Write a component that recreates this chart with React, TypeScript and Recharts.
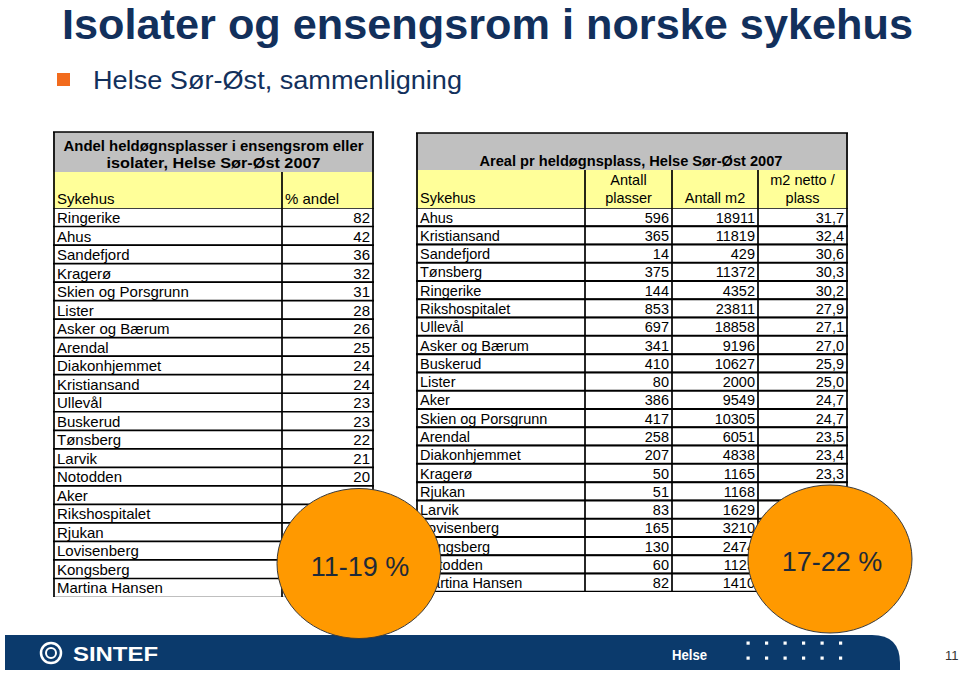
import React from 'react';
import { BarChart, Bar, XAxis, YAxis } from 'recharts';

// Andel heldøgnsplasser i ensengsrom eller isolater (%), de siste seks ligger under sirkelen
const leftNames = [
  'Ringerike', 'Ahus', 'Sandefjord', 'Kragerø', 'Skien og Porsgrunn', 'Lister', 'Asker og Bærum',
  'Arendal', 'Diakonhjemmet', 'Kristiansand', 'Ullevål', 'Buskerud', 'Tønsberg', 'Larvik',
  'Notodden', 'Aker', 'Rikshospitalet', 'Rjukan', 'Lovisenberg', 'Kongsberg', 'Martina Hansen',
];
const leftAndel = [82, 42, 36, 32, 31, 28, 26, 25, 24, 24, 23, 23, 22, 21, 20, 19, 18, 17, 15, 13, 11];

// Areal pr heldøgnsplass
const rightNames = [
  'Ahus', 'Kristiansand', 'Sandefjord', 'Tønsberg', 'Ringerike', 'Rikshospitalet', 'Ullevål',
  'Asker og Bærum', 'Buskerud', 'Lister', 'Aker', 'Skien og Porsgrunn', 'Arendal', 'Diakonhjemmet',
  'Kragerø', 'Rjukan', 'Larvik', 'Lovisenberg', 'Kongsberg', 'Notodden', 'Martina Hansen',
];
const rightPlasser = [596, 365, 14, 375, 144, 853, 697, 341, 410, 80, 386, 417, 258, 207, 50, 51, 83, 165, 130, 60, 82];
const rightM2 = [18911, 11819, 429, 11372, 4352, 23811, 18858, 9196, 10627, 2000, 9549, 10305, 6051, 4838, 1165, 1168, 1629, 3210, 2474, 1125, 1410];
const rightNetto = [31.7, 32.4, 30.6, 30.3, 30.2, 27.9, 27.1, 27.0, 25.9, 25.0, 24.7, 24.7, 23.5, 23.4, 23.3, 22.9, 19.6, 19.5, 19.0, 18.8, 17.2];

const leftData = leftNames.map((name, i) => ({ name, andel: leftAndel[i] }));
const rightData = rightNames.map((name, i) => ({
  name, plasser: rightPlasser[i], m2: rightM2[i], netto: rightNetto[i],
}));

const FONT = '"Liberation Sans", Arial, Helvetica, sans-serif';
const NAVY = '#12305c';
const GRAY = '#c0c0c0';
const YELLOW = '#ffff99';
const ORANGE = '#ff9900';
const LW = 1.7;

const L_X = 53, L_TOP = 208, L_W = 321, L_H = 389, L_COL = 229;
const R_X = 416, R_TOP = 208, R_W = 432, R_H = 384;
const R_COLS = [169, 256, 342];

const fmt = (v: number) => v.toFixed(1).replace('.', ',');

const LeftRow = (p: any) => {
  const { y, height, payload } = p;
  const base = y + height / 2 + 5.5;
  return (
    <g>
      <rect x={0} y={y} width={L_W} height={height} fill="#fff" />
      <line x1={0} x2={L_W} y1={y} y2={y} stroke="#000" strokeWidth={LW} />
      <line x1={0} x2={L_W} y1={y + height} y2={y + height} stroke="#000" strokeWidth={LW} />
      <text x={4} y={base} fontSize={15} fontFamily={FONT} fill="#000">{payload.name}</text>
      <text x={L_W - 4} y={base} fontSize={15} fontFamily={FONT} fill="#000" textAnchor="end">{payload.andel}</text>
    </g>
  );
};

const RightRow = (p: any) => {
  const { y, height, payload } = p;
  const base = y + height / 2 + 5.5;
  const t = { fontSize: 14.5, fontFamily: FONT, fill: '#000' };
  return (
    <g>
      <rect x={0} y={y} width={R_W} height={height} fill="#fff" />
      <line x1={0} x2={R_W} y1={y} y2={y} stroke="#000" strokeWidth={LW} />
      <line x1={0} x2={R_W} y1={y + height} y2={y + height} stroke="#000" strokeWidth={LW} />
      <text x={4} y={base} {...t}>{payload.name}</text>
      <text x={R_COLS[1] - 3} y={base} {...t} textAnchor="end">{payload.plasser}</text>
      <text x={R_COLS[2] - 3} y={base} {...t} textAnchor="end">{payload.m2}</text>
      <text x={R_W - 4} y={base} {...t} textAnchor="end">{fmt(payload.netto)}</text>
    </g>
  );
};

const Header = () => (
  <svg width={960} height={673} style={{ position: 'absolute', left: 0, top: 0, zIndex: 0 }}>
    <text x={62} y={39} fontSize={43} fontWeight="bold" fontFamily={FONT} fill={NAVY}
      textLength={851} lengthAdjust="spacingAndGlyphs">Isolater og ensengsrom i norske sykehus</text>
    <rect x={57} y={73} width={13} height={13} fill="#f26b1d" />
    <text x={93} y={89} fontSize={26} fontFamily={FONT} fill={NAVY}
      textLength={369} lengthAdjust="spacingAndGlyphs">Helse Sør-Øst, sammenligning</text>

    {/* venstre tabellhode */}
    <rect x={L_X} y={132} width={L_W} height={40} fill={GRAY} />
    <rect x={L_X} y={172} width={L_W} height={36} fill={YELLOW} />
    <line x1={L_X} x2={L_X + L_W} y1={132} y2={132} stroke="#000" strokeWidth={LW} />
    <text x={L_X + L_W / 2} y={150.5} fontSize={15.5} fontWeight="bold" fontFamily={FONT} textAnchor="middle"
      textLength={300} lengthAdjust="spacingAndGlyphs">Andel heldøgnsplasser i ensengsrom eller</text>
    <text x={L_X + L_W / 2} y={168} fontSize={15.5} fontWeight="bold" fontFamily={FONT} textAnchor="middle"
      textLength={214} lengthAdjust="spacingAndGlyphs">isolater, Helse Sør-Øst 2007</text>
    <text x={L_X + 4} y={204} fontSize={15} fontFamily={FONT}>Sykehus</text>
    <text x={L_X + L_COL + 3} y={204} fontSize={15} fontFamily={FONT}>% andel</text>

    {/* høyre tabellhode */}
    <rect x={R_X} y={133} width={R_W} height={37} fill={GRAY} />
    <rect x={R_X} y={170} width={R_W} height={38} fill={YELLOW} />
    <line x1={R_X} x2={R_X + R_W} y1={133} y2={133} stroke="#000" strokeWidth={LW} />
    <text x={631} y={166} fontSize={15} fontWeight="bold" fontFamily={FONT} textAnchor="middle"
      textLength={303} lengthAdjust="spacingAndGlyphs">Areal pr heldøgnsplass, Helse Sør-Øst 2007</text>
    <text x={R_X + 4} y={203} fontSize={14.5} fontFamily={FONT}>Sykehus</text>
    <text x={628.5} y={185} fontSize={14.5} fontFamily={FONT} textAnchor="middle">Antall</text>
    <text x={628.5} y={203} fontSize={14.5} fontFamily={FONT} textAnchor="middle">plasser</text>
    <text x={715} y={203} fontSize={14.5} fontFamily={FONT} textAnchor="middle">Antall m2</text>
    <text x={802.5} y={185} fontSize={14.5} fontFamily={FONT} textAnchor="middle">m2 netto /</text>
    <text x={802.5} y={203} fontSize={14.5} fontFamily={FONT} textAnchor="middle">plass</text>
  </svg>
);

// vertikale linjer og ytterkant for begge tabeller
const Frames = () => (
  <svg width={960} height={673} style={{ position: 'absolute', left: 0, top: 0, pointerEvents: 'none', zIndex: 5 }}>
    <line x1={L_X + 1} x2={L_X + 1} y1={132} y2={L_TOP + L_H} stroke="#000" strokeWidth={LW} />
    <line x1={L_X + L_W - 1} x2={L_X + L_W - 1} y1={132} y2={L_TOP + L_H} stroke="#000" strokeWidth={LW} />
    <line x1={L_X + L_COL} x2={L_X + L_COL} y1={172} y2={L_TOP + L_H} stroke="#000" strokeWidth={LW} />
    <line x1={R_X + 1} x2={R_X + 1} y1={133} y2={R_TOP + R_H} stroke="#000" strokeWidth={LW} />
    <line x1={R_X + R_W - 1} x2={R_X + R_W - 1} y1={133} y2={R_TOP + R_H} stroke="#000" strokeWidth={LW} />
    {R_COLS.map(c => (
      <line key={c} x1={R_X + c} x2={R_X + c} y1={170} y2={R_TOP + R_H} stroke="#000" strokeWidth={LW} />
    ))}
  </svg>
);

const Overlay = () => {
  const dots: React.ReactNode[] = [];
  for (let r = 0; r < 2; r++) {
    for (let c = 0; c < 6; c++) {
      dots.push(<rect key={`${r}-${c}`} x={746.5 + c * 18.5} y={641.5 + r * 15} width={3.2} height={3.2} fill="#fff" />);
    }
  }
  return (
    <svg width={960} height={673} style={{ position: 'absolute', left: 0, top: 0, pointerEvents: 'none', zIndex: 6 }}>
      <path d="M5,635 H872 Q900,635 900,663 V670 H5 Z" fill="#0b3a6c" />
      <circle cx={51} cy={653} r={10} fill="none" stroke="#fff" strokeWidth={2.5} />
      <circle cx={51} cy={653} r={5} fill="none" stroke="#fff" strokeWidth={2} />
      <text x={73} y={661} fontSize={21} fontWeight="bold" fontFamily={FONT} fill="#fff"
        textLength={85} lengthAdjust="spacingAndGlyphs">SINTEF</text>
      <text x={672} y={660} fontSize={14} fontWeight="bold" fontFamily={FONT} fill="#fff"
        textLength={35} lengthAdjust="spacingAndGlyphs">Helse</text>
      {dots}
      <text x={945} y={660} fontSize={13} fontFamily={FONT} fill="#333">11</text>

      <ellipse cx={359} cy={563.5} rx={82} ry={75} fill={ORANGE} stroke="#3a3a3a" strokeWidth={1} />
      <text x={360} y={576} fontSize={27} fontFamily={FONT} fill="#1e2a38" textAnchor="middle">11-19 %</text>
      <ellipse cx={830} cy={559} rx={82} ry={74} fill={ORANGE} stroke="#3a3a3a" strokeWidth={1} />
      <text x={832} y={571} fontSize={27} fontFamily={FONT} fill="#1e2a38" textAnchor="middle">17-22 %</text>
    </svg>
  );
};

export default function App() {
  return (
    <div style={{ position: 'absolute', left: 0, top: 0, width: 960, height: 673, background: '#fff', overflow: 'hidden', fontFamily: FONT }}>
      <Header />
      <div style={{ position: 'absolute', left: L_X, top: L_TOP, zIndex: 1 }}>
        <BarChart layout="vertical" width={L_W} height={L_H} data={leftData}
          margin={{ top: 0, right: 0, bottom: 0, left: 0 }} barCategoryGap={0}>
          <XAxis type="number" hide domain={[0, 100]} />
          <YAxis type="category" dataKey="name" hide />
          <Bar dataKey="andel" isAnimationActive={false} shape={LeftRow} />
        </BarChart>
      </div>
      <div style={{ position: 'absolute', left: R_X, top: R_TOP, zIndex: 1 }}>
        <BarChart layout="vertical" width={R_W} height={R_H} data={rightData}
          margin={{ top: 0, right: 0, bottom: 0, left: 0 }} barCategoryGap={0}>
          <XAxis type="number" hide domain={[0, 40]} />
          <YAxis type="category" dataKey="name" hide />
          <Bar dataKey="netto" isAnimationActive={false} shape={RightRow} />
        </BarChart>
      </div>
      <Frames />
      <Overlay />
    </div>
  );
}
